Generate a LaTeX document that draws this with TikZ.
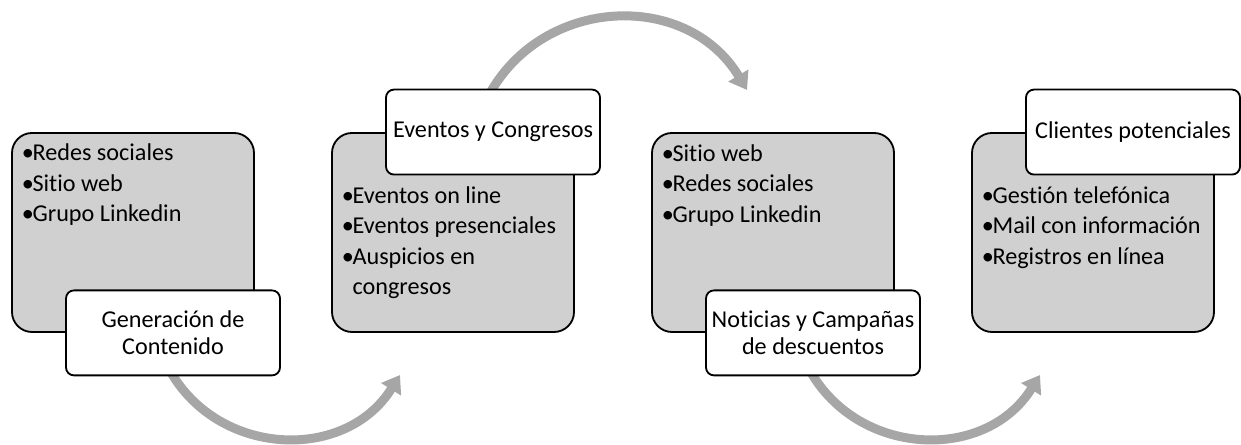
\documentclass[tikz,border=0pt]{standalone}
\usepackage{fontspec}
\setmainfont{Carlito}[Ligatures=NoCommon]
\usepackage{xcolor}
\usetikzlibrary{
  arrows.meta,
  positioning
}
\definecolor{boxgray}{HTML}{D0D0D0}
\definecolor{flowgray}{HTML}{A6A6A6}
\newcommand{\listfont}{\fontsize{17.2pt}{21.7pt}\selectfont\hyphenpenalty=10000}
\newcommand{\labelfont}{\fontsize{17.2pt}{19.2pt}\selectfont}
\newcommand{\bitem}[1]{\hangindent=0.27cm\hangafter=1\strut\makebox[0.27cm][l]{•}#1\par}
\tikzset{
  itembox/.style={draw, fill=boxgray, line width=1.3pt, rounded corners=0.5cm,
    minimum width=6.05cm, minimum height=4.975cm, inner sep=0pt},
  labelbox/.style={draw, fill=white, line width=1.3pt, rounded corners=0.2cm,
    minimum width=5.35cm, minimum height=2.125cm, inner sep=0pt, align=flush center, font=\labelfont},
  itemlist/.style={anchor=north west, inner sep=0pt, text width=5.6cm, align=flush left, font=\listfont},
  flow/.style={draw=flowgray, line width=6.4pt, -{Triangle[length=12pt, width=16pt]}}
}

\begin{document}
\begin{tikzpicture}
        \useasboundingbox (0,0) rectangle (31.025,11.125);
        \coordinate (f1a) at (4.125,2.1);
        \coordinate (f1b) at (10.0,1.75);
        \coordinate (f2a) at (12.11,8.525);
        \coordinate (f2b) at (18.675,8.875);
        \coordinate (f3a) at (20.125,2.1);
        \coordinate (f3b) at (26.0,1.75);
        \draw[flow] (f1a) to[out=-65, in=-122, looseness=1.15] (f1b);
        \draw[flow] (f2a) to[out=65, in=121, looseness=1.16] (f2b);
        \draw[flow] (f3a) to[out=-65, in=-122, looseness=1.15] (f3b);

        \node[itembox] (g1) at (3.325,5.3125) {};
        \node[itembox] (g2) at (11.325,5.3125) {};
        \node[itembox] (g3) at (19.325,5.3125) {};
        \node[itembox] (g4) at (27.325,5.3125) {};

        \node[labelbox] (l1) at ([xshift=1cm]g1.south) {Generación de\\Contenido};
        \node[labelbox] (l2) at ([xshift=1cm]g2.north) {Eventos y Congresos};
        \node[labelbox] (l3) at ([xshift=1cm]g3.south) {Noticias y Campañas\\de descuentos};
        \node[labelbox] (l4) at ([xshift=1cm]g4.north) {Clientes potenciales};

        \node[itemlist] (t1) at ([shift={(0.26cm,-0.17cm)}]g1.north west)
          {\bitem{Redes sociales}\bitem{Sitio web}\bitem{Grupo Linkedin}};
        \node[itemlist] (t2) at ([shift={(0.26cm,-1.24cm)}]g2.north west)
          {\bitem{Eventos on line}\bitem{Eventos presenciales}\bitem{Auspicios en congresos}};
        \node[itemlist] (t3) at ([shift={(0.26cm,-0.19cm)}]g3.north west)
          {\bitem{Sitio web}\bitem{Redes sociales}\bitem{Grupo Linkedin}};
        \node[itemlist] (t4) at ([shift={(0.26cm,-1.24cm)}]g4.north west)
          {\bitem{Gestión telefónica}\bitem{Mail con información}\bitem{Registros en línea}};
\end{tikzpicture}
\end{document}
